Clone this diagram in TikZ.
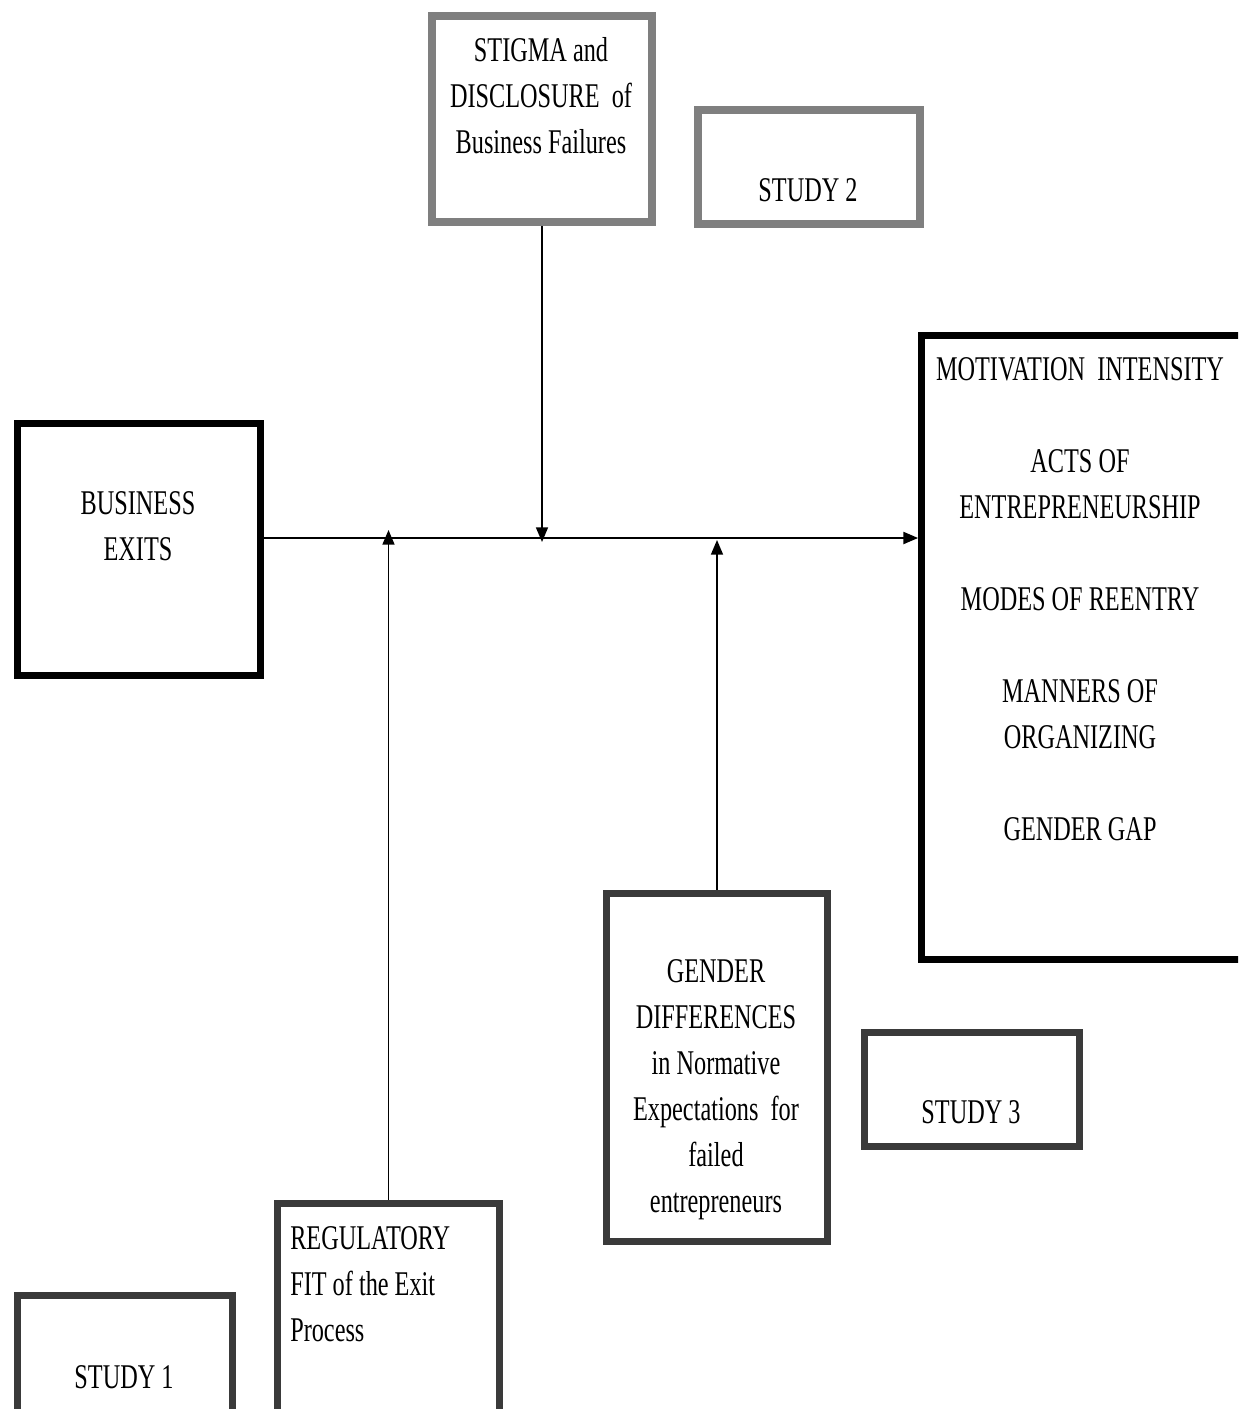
\documentclass[tikz,border=0pt]{standalone}
\usepackage{fontspec}
\setmainfont{Liberation Serif}[FakeStretch=0.7]
\usetikzlibrary{arrows.meta}
\definecolor{midgray}{HTML}{7F7F7F}
\definecolor{dkgray}{HTML}{3A3A3A}
\begin{document}
\begin{tikzpicture}[x=0.75pt,y=-0.75pt,
  box/.style={draw, inner sep=0pt, fill=white},
  graybox/.style={box, draw=midgray, line width=6pt},
  blackbox/.style={box, draw=black, line width=5.5pt},
  darkbox/.style={box, draw=dkgray, line width=5.5pt},
  lbl/.style={font=\fontsize{26}{34.5}\selectfont, align=center, inner sep=0pt, text=black},
  arr/.style={line width=1.2pt, -{Triangle[length=11pt,width=9pt]}},
  mainarr/.style={line width=1.5pt, -{Triangle[length=11pt,width=9pt]}}]
\useasboundingbox (0,0) rectangle (1238,1409);
\fill[white] (0,0) rectangle (1238,1409);
\clip (0,0) rectangle (1238,1409);

% boxes
\node[graybox, minimum width=165pt, minimum height=154.5pt] (stigma) at (542,119) {};
\node[graybox, minimum width=166.5pt, minimum height=85.5pt] (study2) at (809,167) {};
\node[blackbox, minimum width=182.25pt, minimum height=189pt] (bexits) at (139,549.5) {};
\node[blackbox, minimum width=246pt, minimum height=468pt] (outcomes) at (1085.75,647.5) {};
\node[darkbox, minimum width=165.75pt, minimum height=261pt] (gender) at (717,1067.5) {};
\node[darkbox, minimum width=161.25pt, minimum height=85.5pt] (study3) at (972,1089.5) {};
\node[darkbox, minimum width=166.5pt, minimum height=185pt] (regfit) at (388.5,1326.75) {};
\node[darkbox, minimum width=161.25pt, minimum height=116pt] (study1) at (125,1372.75) {};

% texts
\node[lbl] (stigmaT) at (541,96) {STIGMA and\\DISCLOSURE\ \ of\\Business Failures};
\node[lbl] (study2T) at (808,190) {STUDY 2};
\node[lbl] (bexitsT) at (138,526) {BUSINESS\\EXITS};
\node[lbl] (outcomesT) at (1080,599.5) {MOTIVATION\ \ INTENSITY\\[34.5pt]ACTS OF\\ENTREPRENEURSHIP\\[34.5pt]MODES OF REENTRY\\[34.5pt]MANNERS OF\\ORGANIZING\\[34.5pt]GENDER GAP};
\node[lbl] (genderT) at (716,1090) {GENDER\\DIFFERENCES\\in Normative\\Expectations\ \ for\\failed\\entrepreneurs};
\node[lbl] (study3T) at (971,1112) {STUDY 3};
\node[lbl, align=left, anchor=west] (regfitT) at (290,1284) {REGULATORY\\FIT of the Exit\\Process};
\node[lbl] (study1T) at (124,1377) {STUDY 1};

% connectors
\coordinate (mline) at (0,538);
\coordinate (tS) at (542,542);
\coordinate (tR) at (388.5,530);
\coordinate (tG) at (717,540);
\draw[mainarr] (bexits.east |- mline) -- (outcomes.west |- mline);
\draw[arr] (stigma.south) -- (tS);
\draw[arr] (regfit.north) -- (tR);
\draw[arr] (gender.north) -- (tG);
\end{tikzpicture}
\end{document}
